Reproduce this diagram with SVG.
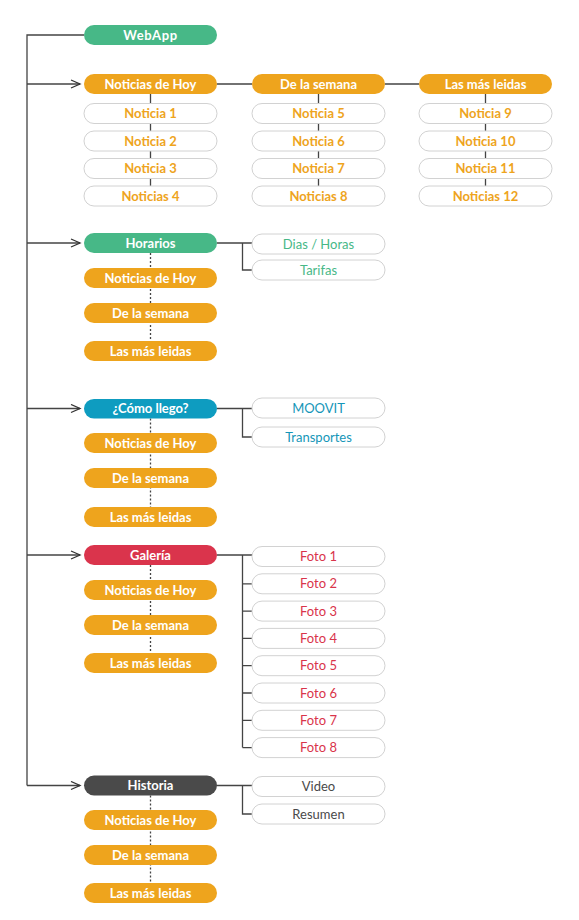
<svg xmlns="http://www.w3.org/2000/svg" width="579" height="920" viewBox="0 0 579 920">
<defs>
<marker id="arr" markerUnits="userSpaceOnUse" markerWidth="12" markerHeight="12" refX="10" refY="5" orient="auto">
<path d="M1,1 L10,5 L1,9" fill="none" stroke="#333" stroke-width="1.3"/>
</marker>
<style>
text{font-family:"Lato","Open Sans","Liberation Sans",sans-serif;font-size:13px;text-anchor:middle}
.w{fill:#fff;stroke:#d2d2d2;stroke-width:1}
.tw{fill:#fff;font-weight:bold}
.to{fill:#eea41d;font-weight:bold}
.tg{fill:#47b887}
.tb{fill:#1596b8}
.tr{fill:#d9344b}
.tk{fill:#4a4a4a}
.l{stroke:#444;stroke-width:1.3;fill:none}
.d{stroke:#444;stroke-width:1.3;fill:none;stroke-dasharray:2 2}
</style>
</defs>
<g id="connectors">
<path class="l" d="M84,35 H27 V785.5"/>
<path class="l" d="M27,84 H80" marker-end="url(#arr)"/>
<path class="l" d="M27,243 H80" marker-end="url(#arr)"/>
<path class="l" d="M27,408.5 H80" marker-end="url(#arr)"/>
<path class="l" d="M27,555 H80" marker-end="url(#arr)"/>
<path class="l" d="M27,785.5 H80" marker-end="url(#arr)"/>
<path class="l" d="M217,84 H252 M385,84 H419"/>
<path class="l" d="M150.5,94 V196 M318.5,94 V196 M485.5,94 V196"/>
<path class="l" d="M217,243 H252 M242.5,243 V270 H252"/>
<path class="l" d="M217,408.5 H252 M242.5,408.5 V437 H252"/>
<path class="l" d="M217,555 H252 M242.5,555 V747.6 M242.5,583.8 H252 M242.5,611.1 H252 M242.5,638.4 H252 M242.5,665.7 H252 M242.5,693 H252 M242.5,720.3 H252 M242.5,747.6 H252"/>
<path class="l" d="M217,785.5 H252 M242.5,785.5 V814 H252"/>
<path class="d" d="M150.5,253 V341 M150.5,418.5 V507 M150.5,565 V653 M150.5,795.5 V883"/>
</g>
<g id="webapp"><rect x="84" y="25" width="133" height="20" rx="10" fill="#47b887"/><text class="tw" x="150.5" y="39.5" style="letter-spacing:0.6px">WebApp</text></g>
<g id="noticias-hoy"><rect x="84" y="74" width="133" height="20" rx="10" fill="#eea41d"/><text class="tw" x="150.5" y="88.5">Noticias de Hoy</text></g>
<g id="de-la-semana"><rect x="252" y="74" width="133" height="20" rx="10" fill="#eea41d"/><text class="tw" x="318.5" y="88.5">De la semana</text></g>
<g id="las-mas-leidas"><rect x="419" y="74" width="133" height="20" rx="10" fill="#eea41d"/><text class="tw" x="485.5" y="88.5">Las más leidas</text></g>
<g id="noticia1"><rect class="w" x="84" y="103.5" width="133" height="20" rx="10"/><text class="to" x="150.5" y="118">Noticia 1</text></g>
<g id="noticia2"><rect class="w" x="84" y="131" width="133" height="20" rx="10"/><text class="to" x="150.5" y="145.5">Noticia 2</text></g>
<g id="noticia3"><rect class="w" x="84" y="158.5" width="133" height="20" rx="10"/><text class="to" x="150.5" y="173">Noticia 3</text></g>
<g id="noticia4"><rect class="w" x="84" y="186" width="133" height="20" rx="10"/><text class="to" x="150.5" y="200.5">Noticias 4</text></g>
<g id="noticia5"><rect class="w" x="252" y="103.5" width="133" height="20" rx="10"/><text class="to" x="318.5" y="118">Noticia 5</text></g>
<g id="noticia6"><rect class="w" x="252" y="131" width="133" height="20" rx="10"/><text class="to" x="318.5" y="145.5">Noticia 6</text></g>
<g id="noticia7"><rect class="w" x="252" y="158.5" width="133" height="20" rx="10"/><text class="to" x="318.5" y="173">Noticia 7</text></g>
<g id="noticia8"><rect class="w" x="252" y="186" width="133" height="20" rx="10"/><text class="to" x="318.5" y="200.5">Noticias 8</text></g>
<g id="noticia9"><rect class="w" x="419" y="103.5" width="133" height="20" rx="10"/><text class="to" x="485.5" y="118">Noticia 9</text></g>
<g id="noticia10"><rect class="w" x="419" y="131" width="133" height="20" rx="10"/><text class="to" x="485.5" y="145.5">Noticia 10</text></g>
<g id="noticia11"><rect class="w" x="419" y="158.5" width="133" height="20" rx="10"/><text class="to" x="485.5" y="173">Noticia 11</text></g>
<g id="noticia12"><rect class="w" x="419" y="186" width="133" height="20" rx="10"/><text class="to" x="485.5" y="200.5">Noticias 12</text></g>

<g id="horarios"><rect x="84" y="233" width="133" height="20" rx="10" fill="#47b887"/><text class="tw" x="150.5" y="247.5">Horarios</text></g>
<g id="h-hoy"><rect x="84" y="268" width="133" height="20" rx="10" fill="#eea41d"/><text class="tw" x="150.5" y="282.5">Noticias de Hoy</text></g>
<g id="h-semana"><rect x="84" y="303" width="133" height="20" rx="10" fill="#eea41d"/><text class="tw" x="150.5" y="317.5">De la semana</text></g>
<g id="h-leidas"><rect x="84" y="341" width="133" height="20" rx="10" fill="#eea41d"/><text class="tw" x="150.5" y="355.5">Las más leidas</text></g>
<g id="dias-horas"><rect class="w" x="252" y="234" width="133" height="20" rx="10"/><text class="tg" x="318.5" y="248.5">Dias / Horas</text></g>
<g id="tarifas"><rect class="w" x="252" y="260" width="133" height="20" rx="10"/><text class="tg" x="318.5" y="274.5">Tarifas</text></g>

<g id="como-llego"><rect x="84" y="399" width="133" height="19.5" rx="10" fill="#0e9cc0"/><text class="tw" x="150.5" y="413">¿Cómo llego?</text></g>
<g id="c-hoy"><rect x="84" y="433" width="133" height="20" rx="10" fill="#eea41d"/><text class="tw" x="150.5" y="447.5">Noticias de Hoy</text></g>
<g id="c-semana"><rect x="84" y="468" width="133" height="20" rx="10" fill="#eea41d"/><text class="tw" x="150.5" y="482.5">De la semana</text></g>
<g id="c-leidas"><rect x="84" y="507" width="133" height="20" rx="10" fill="#eea41d"/><text class="tw" x="150.5" y="521.5">Las más leidas</text></g>
<g id="moovit"><rect class="w" x="252" y="398" width="133" height="20" rx="10"/><text class="tb" x="318.5" y="412.5">MOOVIT</text></g>
<g id="transportes"><rect class="w" x="252" y="427" width="133" height="20" rx="10"/><text class="tb" x="318.5" y="441.5">Transportes</text></g>

<g id="galeria"><rect x="84" y="545" width="133" height="20" rx="10" fill="#da344c"/><text class="tw" x="150.5" y="559.5">Galería</text></g>
<g id="g-hoy"><rect x="84" y="580" width="133" height="20" rx="10" fill="#eea41d"/><text class="tw" x="150.5" y="594.5">Noticias de Hoy</text></g>
<g id="g-semana"><rect x="84" y="615" width="133" height="20" rx="10" fill="#eea41d"/><text class="tw" x="150.5" y="629.5">De la semana</text></g>
<g id="g-leidas"><rect x="84" y="653" width="133" height="20" rx="10" fill="#eea41d"/><text class="tw" x="150.5" y="667.5">Las más leidas</text></g>
<g id="foto1"><rect class="w" x="252" y="546.5" width="133" height="20" rx="10"/><text class="tr" x="318.5" y="561">Foto 1</text></g>
<g id="foto2"><rect class="w" x="252" y="573.8" width="133" height="20" rx="10"/><text class="tr" x="318.5" y="588.3">Foto 2</text></g>
<g id="foto3"><rect class="w" x="252" y="601.1" width="133" height="20" rx="10"/><text class="tr" x="318.5" y="615.6">Foto 3</text></g>
<g id="foto4"><rect class="w" x="252" y="628.4" width="133" height="20" rx="10"/><text class="tr" x="318.5" y="642.9">Foto 4</text></g>
<g id="foto5"><rect class="w" x="252" y="655.7" width="133" height="20" rx="10"/><text class="tr" x="318.5" y="670.2">Foto 5</text></g>
<g id="foto6"><rect class="w" x="252" y="683" width="133" height="20" rx="10"/><text class="tr" x="318.5" y="697.5">Foto 6</text></g>
<g id="foto7"><rect class="w" x="252" y="710.3" width="133" height="20" rx="10"/><text class="tr" x="318.5" y="724.8">Foto 7</text></g>
<g id="foto8"><rect class="w" x="252" y="737.6" width="133" height="20" rx="10"/><text class="tr" x="318.5" y="752.1">Foto 8</text></g>

<g id="historia"><rect x="84" y="775.5" width="133" height="20" rx="10" fill="#4a4a4a"/><text class="tw" x="150.5" y="790">Historia</text></g>
<g id="hi-hoy"><rect x="84" y="810" width="133" height="20" rx="10" fill="#eea41d"/><text class="tw" x="150.5" y="824.5">Noticias de Hoy</text></g>
<g id="hi-semana"><rect x="84" y="845" width="133" height="20" rx="10" fill="#eea41d"/><text class="tw" x="150.5" y="859.5">De la semana</text></g>
<g id="hi-leidas"><rect x="84" y="883" width="133" height="20" rx="10" fill="#eea41d"/><text class="tw" x="150.5" y="897.5">Las más leidas</text></g>
<g id="video"><rect class="w" x="252" y="776.5" width="133" height="20" rx="10"/><text class="tk" x="318.5" y="791">Video</text></g>
<g id="resumen"><rect class="w" x="252" y="804" width="133" height="20" rx="10"/><text class="tk" x="318.5" y="818.5">Resumen</text></g>
</svg>
